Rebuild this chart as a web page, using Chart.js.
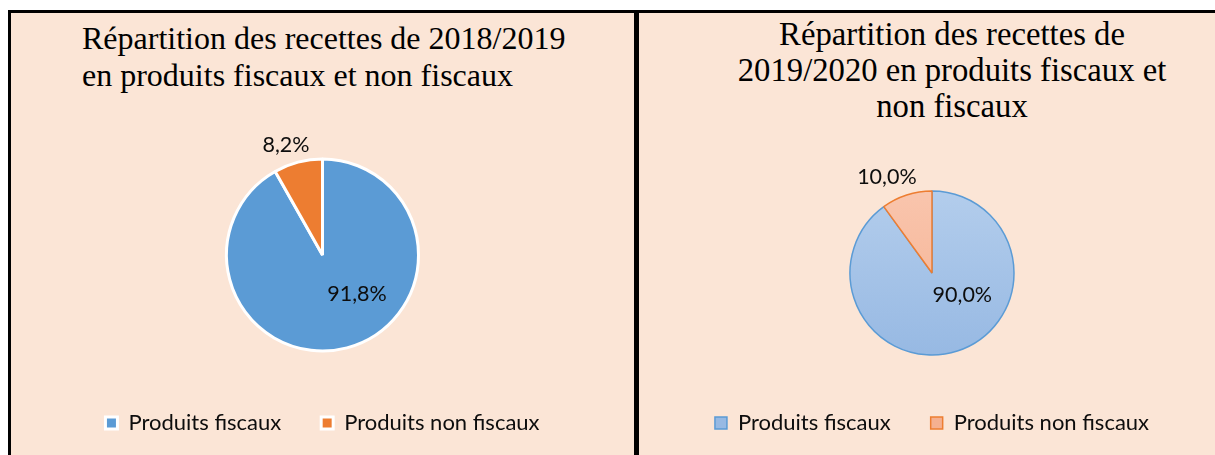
<!DOCTYPE html>
<html>
<head>
<meta charset="utf-8">
<script src="https://cdn.jsdelivr.net/npm/chart.js@4.4.1/dist/chart.umd.min.js"></script>
<style>
  body { margin: 0; width: 1215px; height: 455px; overflow: hidden; background: #fff; position: relative; }
  .panel { position: absolute; top: 10px; height: 470px; background: #FBE5D6; border-top: 3px solid #000; }
  #p1 { left: 8px; width: 623px; border-left: 3px solid #000; border-right: 5px solid #000; }
  #p2 { left: 639px; width: 640px; }
  .title { position: absolute; font-family: "Liberation Serif", "Times New Roman", serif; font-size: 32px; line-height: 37px; color: #000; white-space: nowrap; }
  #t1 { left: 82px; top: 20px; }
  #t2 { left: 702px; top: 16px; width: 500px; text-align: center; font-size: 32.7px; line-height: 36px; }
  canvas { position: absolute; }
  #c1 { left: 11px; top: 120px; }
  #c2 { left: 639px; top: 130px; }
</style>
</head>
<body>
<div class="panel" id="p1"></div>
<div class="panel" id="p2"></div>
<div class="title" id="t1">Répartition des recettes de 2018/2019<br>en produits fiscaux et non fiscaux</div>
<div class="title" id="t2">Répartition des recettes de<br>2019/2020 en produits fiscaux et<br>non fiscaux</div>
<canvas id="c1" width="623" height="335"></canvas>
<canvas id="c2" width="576" height="325"></canvas>
<script>
// data
const labels = ['Produits fiscaux', 'Produits non fiscaux'];
const shares1819 = [91.8, 8.2];
const shares1920 = [90.0, 10.0];

const fmt = v => v.toFixed(1).replace('.', ',') + '%';

// draws the percentage next to each slice, offset in units of the radius
const pctLabels = {
    id: 'pctLabels',
    afterDatasetsDraw(chart, args, opts) {
        const ctx = chart.ctx;
        const meta = chart.getDatasetMeta(0);
        const values = chart.data.datasets[0].data;
        ctx.save();
        ctx.font = '21.5px Lato';
        ctx.fillStyle = '#0d0d0d';
        ctx.textAlign = 'center';
        ctx.textBaseline = 'middle';
        meta.data.forEach((arc, i) => {
            const { x, y, outerRadius } = arc.getProps(['x', 'y', 'outerRadius'], true);
            const [dx, dy] = opts.spots[i];
            ctx.fillText(fmt(values[i]), x + dx * outerRadius, y + dy * outerRadius);
        });
        ctx.restore();
    }
};

const legendOpts = {
    position: 'bottom',
    labels: {
        boxWidth: 12,
        boxHeight: 12,
        padding: 40,
        color: '#0d0d0d',
        font: { family: 'Lato', size: 22 }
    }
};

new Chart(document.getElementById('c1'), {
    type: 'pie',
    data: {
        labels: labels,
        datasets: [{
            data: shares1819,
            backgroundColor: ['#5B9BD5', '#ED7D31'],
            borderColor: '#fff',
            borderWidth: 3,
            radius: 96
        }]
    },
    options: {
        responsive: false,
        animation: false,
        layout: { padding: { top: 18, bottom: 11 } },
        plugins: {
            legend: legendOpts,
            tooltip: { enabled: false },
            pctLabels: { spots: [[0.36, 0.41], [-0.38, -1.15]] }
        }
    },
    plugins: [pctLabels]
});

// lighter fills with a soft top-to-bottom gradient
const fills = [['#B3CDEC', '#97B9E3'], ['#F9C5AD', '#F5B090']];
function gradFill(c) {
    const area = c.chart.chartArea;
    const pair = fills[c.dataIndex];
    if (!area) return pair[1];
    const cy = (area.top + area.bottom) / 2;
    const g = c.chart.ctx.createLinearGradient(0, cy - 82, 0, cy + 82);
    g.addColorStop(0, pair[0]);
    g.addColorStop(1, pair[1]);
    return g;
}

new Chart(document.getElementById('c2'), {
    type: 'pie',
    data: {
        labels: labels,
        datasets: [{
            data: shares1920,
            backgroundColor: gradFill,
            borderColor: ['#5B9BD5', '#ED7D31'],
            borderWidth: 1.5,
            radius: 82
        }]
    },
    options: {
        responsive: false,
        animation: false,
        layout: { padding: { top: 44, bottom: 11, left: 10 } },
        plugins: {
            legend: legendOpts,
            tooltip: { enabled: false },
            pctLabels: { spots: [[0.37, 0.27], [-0.55, -1.17]] }
        }
    },
    plugins: [pctLabels]
});
</script>
</body>
</html>
